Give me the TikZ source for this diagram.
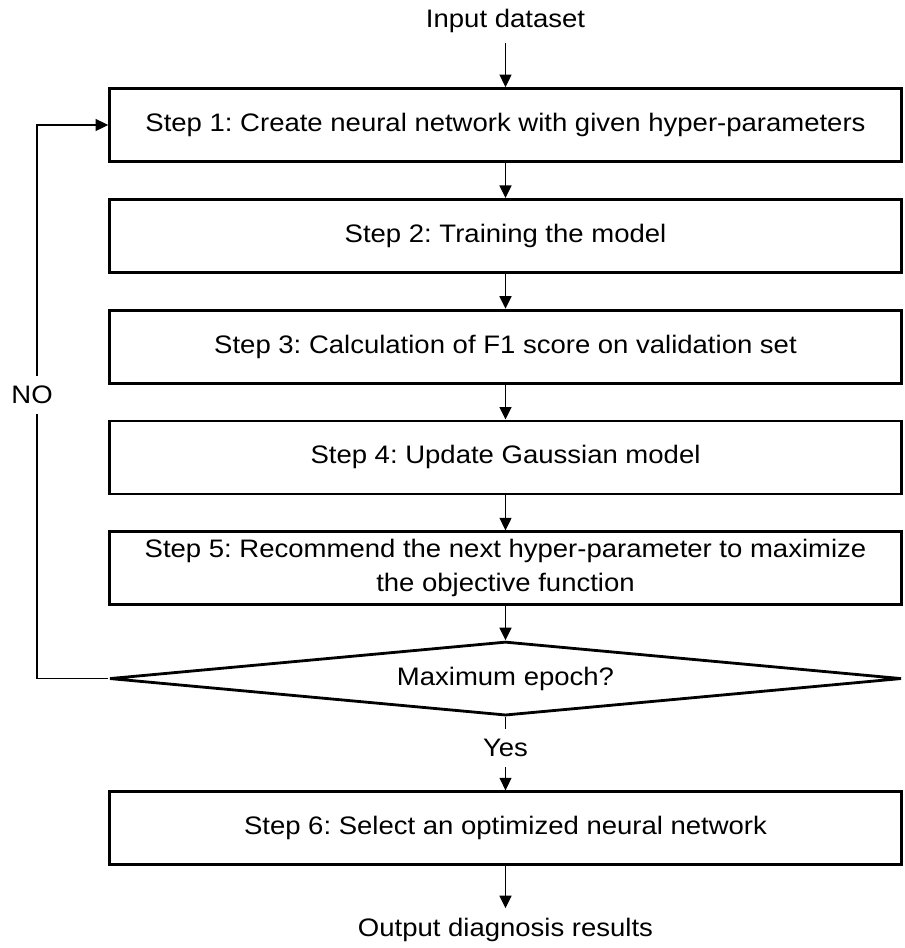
\documentclass[tikz,border=0pt]{standalone}
\usepackage{fontspec}
\setmainfont[FakeStretch=1.087]{Liberation Sans}
\usepackage{tikz}
\usetikzlibrary{arrows.meta,positioning,shapes.geometric,calc}
\frenchspacing

\begin{document}
\begin{tikzpicture}[every node/.style={font=\fontsize{14.4}{19.3}\selectfont,align=center},stepbox/.style={draw,line width=1.6pt,minimum width=15.84cm,minimum height=1.46cm,inner sep=0pt},decbox/.style={draw,diamond,aspect=10,line width=1.6pt,minimum width=15.84cm,minimum height=1.48cm,inner sep=0pt},term/.style={inner sep=0.2cm},arr/.style={-{Triangle[length=2.5mm,width=2.4mm]},line width=0.8pt}]
\useasboundingbox (0,0) rectangle (18.1,-18.96);
\node[stepbox] (s1) at (10.11,-2.5) {Step 1: Create neural network with given hyper-parameters};
\node[term,above=0.88cm of s1] (input) {Input dataset};
\node[stepbox,below=0.7cm of s1] (s2) {Step 2: Training the model};
\node[stepbox,below=0.7cm of s2] (s3) {Step 3: Calculation of F1 score on validation set};
\node[stepbox,below=0.7cm of s3] (s4) {Step 4: Update Gaussian model};
\node[stepbox,below=0.7cm of s4] (s5) {Step 5: Recommend the next hyper-parameter to maximize\\the objective function};
\node[decbox,below=0.68cm of s5] (dec) {Maximum epoch?};
\node[term,below=0.24cm of dec] (yes) {Yes};
\node[stepbox,below=0.46cm of yes] (s6) {Step 6: Select an optimized neural network};
\node[term,below=0.84cm of s6] (output) {Output diagnosis results};
\coordinate[left=1.42cm of dec.west] (turn);
\draw[arr] (input) -- (s1);
\draw[arr] (s1) -- (s2);
\draw[arr] (s2) -- (s3);
\draw[arr] (s3) -- (s4);
\draw[arr] (s4) -- (s5);
\draw[arr] (s5) -- (dec);
\draw[line width=0.8pt] (dec) -- (yes);
\draw[arr] (yes) -- (s6);
\draw[arr] (s6) -- (output);
\draw[arr] (dec.west) -- (turn) |- node[pos=0.256,xshift=-0.1cm,fill=white,inner sep=0.2cm] (no) {NO} (s1.west);
\end{tikzpicture}
\end{document}
